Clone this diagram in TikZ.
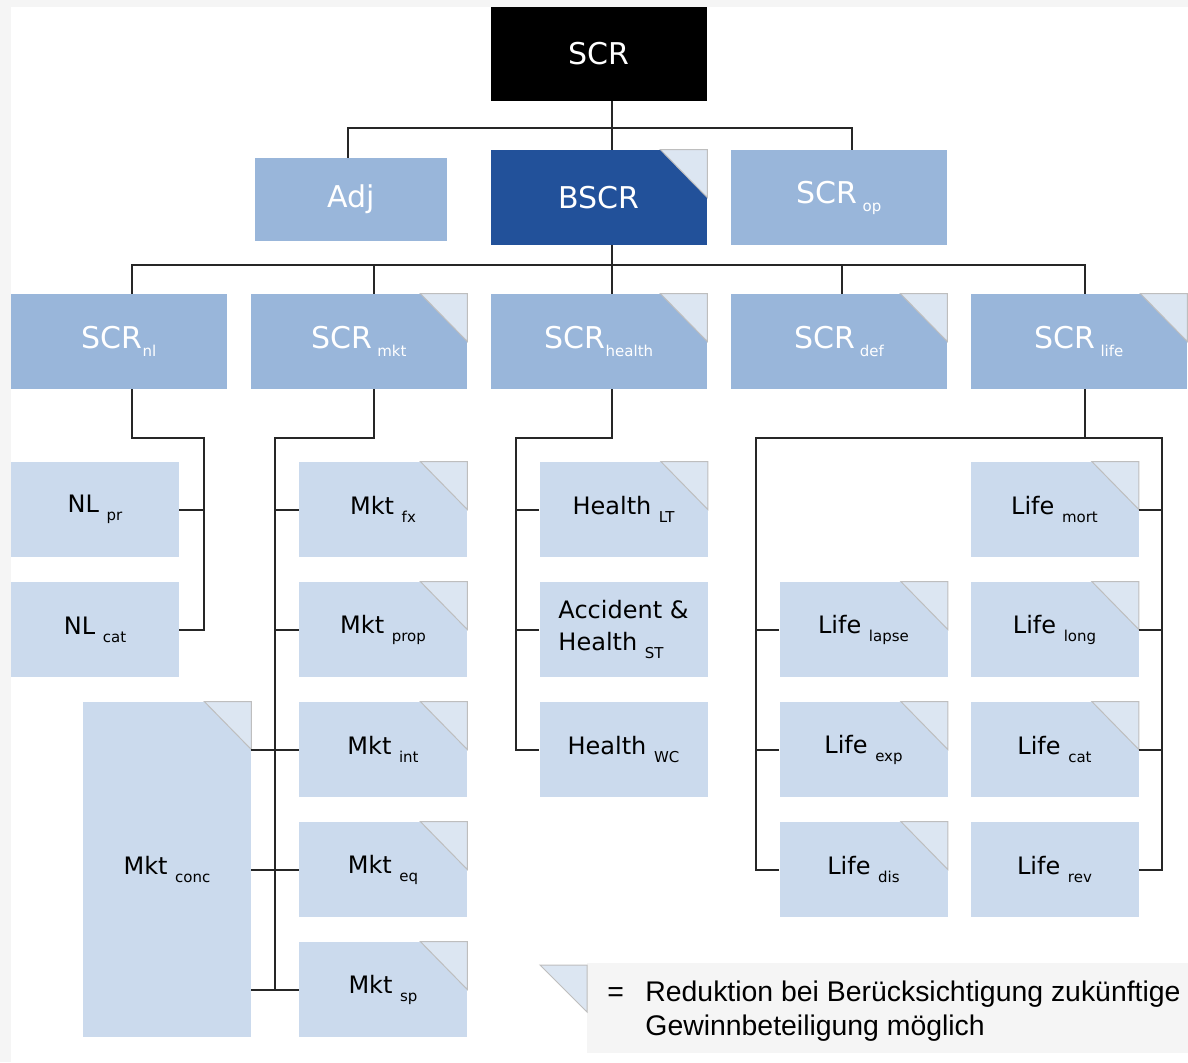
\documentclass[tikz,border=0pt]{standalone}
\usepackage{fontspec}
\setmainfont{DejaVu Sans}
\newfontfamily\legendfont{Liberation Sans}
\usepackage{tikz}
\definecolor{darkblue}{RGB}{34,81,154}
\definecolor{midblue}{RGB}{153,182,218}
\definecolor{lightblue}{RGB}{203,218,237}
\definecolor{foldfill}{RGB}{220,230,242}
\definecolor{foldline}{RGB}{190,190,190}
\definecolor{bggray}{RGB}{245,245,245}
\definecolor{wirecol}{RGB}{38,38,38}
\newcommand{\lo}[1]{\raisebox{-4pt}{\fontsize{7.5}{8}\selectfont #1}}

\begin{document}
\begin{tikzpicture}[x=0.5pt, y=-0.5pt,
  box/.style={rectangle, inner sep=2pt, minimum height=47.5pt},
  bigbox/.style={box, minimum width=108pt, fill=midblue, text=white, font=\fontsize{15}{18}\selectfont},
  smallbox/.style={box, minimum width=84pt, fill=lightblue, text=black, font=\fontsize{12}{16}\selectfont},
  fold/.style={fill=foldfill, draw=foldline, line width=0.5pt},
  wire/.style={draw=wirecol, line width=1pt},
  legend/.style={inner sep=0pt, font=\legendfont\fontsize{14.2}{17}\selectfont}]
\useasboundingbox (0,0) rectangle (1188,1062);
\fill[bggray] (0,0) rectangle (1188,1062);
\fill[white] (11,7) rectangle (1188,1062);

\node[bigbox, fill=black, minimum height=47pt] (scr) at (599,54) {SCR};
\node[bigbox, minimum width=96pt, minimum height=41.5pt] (adj) at (351,199.5) {Adj};
\node[bigbox, fill=darkblue] (bscr) at (599,197.5) {BSCR};
\node[bigbox] (op) at (839,197.5) {SCR\,\lo{op}};

\node[bigbox] (nl) at (119,341.5) {SCR\lo{nl}};
\node[bigbox] (mkt) at (359,341.5) {SCR\,\lo{mkt}};
\node[bigbox] (health) at (599,341.5) {SCR\lo{health}};
\node[bigbox] (def) at (839,341.5) {SCR\,\lo{def}};
\node[bigbox] (life) at (1079,341.5) {SCR\,\lo{life}};

\node[smallbox] (nlpr) at (95,509.5) {NL\ \lo{pr}};
\node[smallbox] (nlcat) at (95,629.5) {NL\ \lo{cat}};
\node[smallbox] (mktfx) at (383,509.5) {Mkt\ \lo{fx}};
\node[smallbox] (mktprop) at (383,629.5) {Mkt\ \lo{prop}};
\node[smallbox] (mktint) at (383,749.5) {Mkt\ \lo{int}};
\node[smallbox] (mkteq) at (383,869.5) {Mkt\ \lo{eq}};
\node[smallbox] (mktsp) at (383,989.5) {Mkt\ \lo{sp}};
\node[smallbox, minimum height=167.5pt] (mktconc) at (167,869.5) {Mkt\ \lo{conc}};
\node[smallbox] (healthlt) at (623.5,509.5) {Health\ \lo{LT}};
\node[smallbox, align=left] (healthst) at (623.5,629.5) {Accident \&\\Health\ \lo{ST}};
\node[smallbox] (healthwc) at (623.5,749.5) {Health\ \lo{WC}};
\node[smallbox] (lifelapse) at (863.5,629.5) {Life\ \lo{lapse}};
\node[smallbox] (lifeexp) at (863.5,749.5) {Life\ \lo{exp}};
\node[smallbox] (lifedis) at (863.5,869.5) {Life\ \lo{dis}};
\node[smallbox] (lifemort) at (1054.5,509.5) {Life\ \lo{mort}};
\node[smallbox] (lifelong) at (1054.5,629.5) {Life\ \lo{long}};
\node[smallbox] (lifecat) at (1054.5,749.5) {Life\ \lo{cat}};
\node[smallbox] (liferev) at (1054.5,869.5) {Life\ \lo{rev}};

\foreach \n in {bscr, mkt, health, def, life, mktfx, mktprop, mktint, mkteq, mktsp, mktconc,
  healthlt, lifelapse, lifeexp, lifedis, lifemort, lifelong, lifecat}
  \filldraw[fold] (\n.north east) -- ++(-47,0) -- ++(47,48) -- cycle;

\coordinate (top) at (612,128);
\coordinate (adjx) at (348,128);
\coordinate (opx) at (852,128);
\coordinate (mid) at (612,265);
\coordinate (nlx) at (132,265);
\coordinate (mktx) at (374,265);
\coordinate (defx) at (842,265);
\coordinate (lifex) at (1085,265);
\coordinate (nlrail) at (204,438);
\coordinate (mktrail) at (275,438);
\coordinate (healthrail) at (516,438);
\coordinate (liferailL) at (756,438);
\coordinate (liferailR) at (1162,438);

\draw[wire] (scr.south -| top) -- (bscr.north -| top);
\draw[wire] (adj.north -| adjx) -- (adjx) -- (opx) -- (op.north -| opx);
\draw[wire] (bscr.south -| mid) -- (mid);
\draw[wire] (nl.north -| nlx) -- (nlx) -- (lifex) -- (life.north -| lifex);
\draw[wire] (mktx) -- (mkt.north -| mktx);
\draw[wire] (mid) -- (health.north -| mid);
\draw[wire] (defx) -- (def.north -| defx);

\draw[wire] (nl.south -| nlx) |- (nlrail) |- (nlcat.east);
\draw[wire] (nlpr.east) -- (nlpr.east -| nlrail);
\draw[wire] (mkt.south -| mktx) |- (mktrail) |- (mktsp.west);
\foreach \n in {mktfx, mktprop, mktint, mkteq}
  \draw[wire] (\n.west) -- (\n.west -| mktrail);
\foreach \n in {mktint, mkteq, mktsp}
  \draw[wire] (mktconc.east |- \n.west) -- (\n.west -| mktrail);
\draw[wire] (health.south -| mid) |- (healthrail) |- (healthwc.west);
\foreach \n in {healthlt, healthst}
  \draw[wire] (\n.west) -- (\n.west -| healthrail);
\draw[wire] (life.south -| lifex) -- (lifex |- liferailL);
\draw[wire] (lifedis.west) -| (liferailL) -- (liferailR) |- (liferev.east);
\foreach \n in {lifelapse, lifeexp}
  \draw[wire] (\n.west) -- (\n.west -| liferailL);
\foreach \n in {lifemort, lifelong, lifecat}
  \draw[wire] (\n.east) -- (\n.east -| liferailR);

\fill[bggray] (587,963) rectangle (1188,1053);
\filldraw[fold] (587,965) -- (540,965) -- (587,1012) -- cycle;
\node[legend, anchor=base west] (eq) at (607,1001) {=};
\node[legend, anchor=north west, align=left] (note) at (645,980) {Reduktion bei Berücksichtigung zukünftige\\Gewinnbeteiligung möglich};
\end{tikzpicture}
\end{document}
